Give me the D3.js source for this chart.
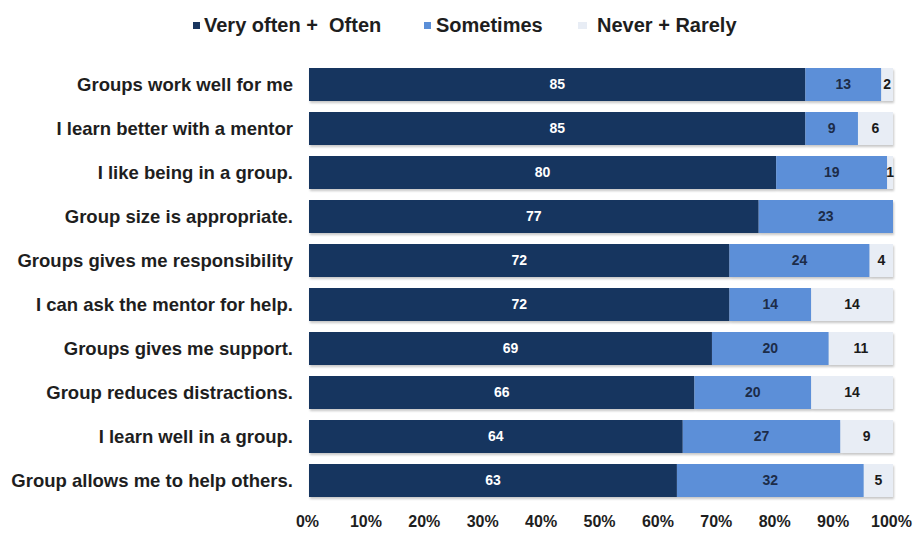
<!DOCTYPE html>
<html>
<head>
<meta charset="utf-8">
<script src="https://cdn.jsdelivr.net/npm/d3@7"></script>
<style>
  body { margin: 0; background: #fff; }
  svg { font-family: "Liberation Sans", Arial, sans-serif; }
</style>
</head>
<body>
<div id="chart"></div>
<script>
// Survey statements (top to bottom)
const statements = [
  'Groups work well for me',
  'I learn better with a mentor',
  'I like being in a group.',
  'Group size is appropriate.',
  'Groups gives me responsibility',
  'I can ask the mentor for help.',
  'Groups gives me support.',
  'Group reduces distractions.',
  'I learn well in a group.',
  'Group allows me to help others.'
];

const seriesNames = ['Very often +  Often', 'Sometimes', 'Never + Rarely'];
const oftenValues = [85, 85, 80, 77, 72, 72, 69, 66, 64, 63];
const sometimesValues = [13, 9, 19, 23, 24, 14, 20, 20, 27, 32];
const neverValues = [2, 6, 1, 0, 4, 14, 11, 14, 9, 5];
const tickValues = [0, 10, 20, 30, 40, 50, 60, 70, 80, 90, 100];

const colours = ['#19365f', '#5b8fd8', '#e8edf5'];
const textColours = ['#ffffff', '#1c2c48', '#1a1a1a'];

const width = 916, height = 535;
const svg = d3.select('#chart').append('svg')
  .attr('width', width)
  .attr('height', height);

const x = d3.scaleLinear().domain([0, 100]).range([309, 893]);
const y = d3.scaleBand().domain(statements).range([62.5, 502.5])
  .paddingInner(0.25).paddingOuter(0.125);

// Build stacked data
const rows = statements.map((s, i) => ({
  statement: s,
  vals: [oftenValues[i], sometimesValues[i], neverValues[i]]
}));
const segments = [];
rows.forEach(r => {
  let acc = 0;
  r.vals.forEach((v, k) => {
    segments.push({ statement: r.statement, k, v, x0: acc, x1: acc + v });
    acc += v;
  });
});

// Soft shadow under bars
const defs = svg.append('defs');
const f = defs.append('filter').attr('id', 'shadow')
  .attr('x', '-5%').attr('y', '-20%').attr('width', '110%').attr('height', '150%');
f.append('feDropShadow').attr('dx', 1).attr('dy', 2).attr('stdDeviation', 1.2)
  .attr('flood-color', '#000').attr('flood-opacity', 0.22);

const g = svg.append('g');

g.selectAll('g.row')
  .data(rows)
  .join('g')
  .attr('class', 'row')
  .attr('filter', 'url(#shadow)')
  .selectAll('rect')
  .data(r => segments.filter(s => s.statement === r.statement && s.v > 0))
  .join('rect')
  .attr('x', d => x(d.x0))
  .attr('y', d => y(d.statement))
  .attr('width', d => x(d.x1) - x(d.x0))
  .attr('height', y.bandwidth())
  .attr('fill', d => colours[d.k]);

// Segment value labels
g.selectAll('text.val')
  .data(segments.filter(s => s.v > 0))
  .join('text')
  .attr('class', 'val')
  .attr('x', d => x((d.x0 + d.x1) / 2))
  .attr('y', d => y(d.statement) + y.bandwidth() / 2)
  .attr('dy', '0.35em')
  .attr('text-anchor', 'middle')
  .style('font-size', '14px')
  .style('font-weight', '700')
  .style('fill', d => textColours[d.k])
  .text(d => d.v);

// Category labels
g.selectAll('text.cat')
  .data(statements)
  .join('text')
  .attr('class', 'cat')
  .attr('x', 293)
  .attr('y', d => y(d) + y.bandwidth() / 2)
  .attr('dy', '0.35em')
  .attr('text-anchor', 'end')
  .style('font-size', '18.5px')
  .style('font-weight', '700')
  .style('fill', '#1e1e1e')
  .text(d => d);

// X axis tick labels
const xAxis = d3.axisBottom(x)
  .tickValues(tickValues)
  .tickSize(0)
  .tickPadding(0)
  .tickFormat(d => d + '%');
svg.append('g')
  .attr('transform', 'translate(-2,516)')
  .call(xAxis)
  .call(a => a.select('.domain').remove())
  .selectAll('text')
  .style('font-family', '"Liberation Sans", Arial, sans-serif')
  .style('font-size', '16px')
  .style('font-weight', '700')
  .style('fill', '#1e1e1e');

// Legend
const legendX = [193, 424, 578];
const legendTextX = [11, 12, 19];
const legend = svg.append('g');
const items = legend.selectAll('g')
  .data(seriesNames)
  .join('g')
  .attr('transform', (d, i) => `translate(${legendX[i]},25)`);
items.append('rect')
  .attr('x', 0).attr('y', -3)
  .attr('width', (d, i) => i === 2 ? 9 : 7)
  .attr('height', 7)
  .attr('fill', (d, i) => colours[i]);
items.append('text')
  .attr('x', (d, i) => legendTextX[i])
  .attr('dy', '0.35em')
  .style('font-size', '20px')
  .style('font-weight', '700')
  .style('white-space', 'pre')
  .style('fill', '#1e1e1e')
  .text(d => d);
</script>
</body>
</html>
